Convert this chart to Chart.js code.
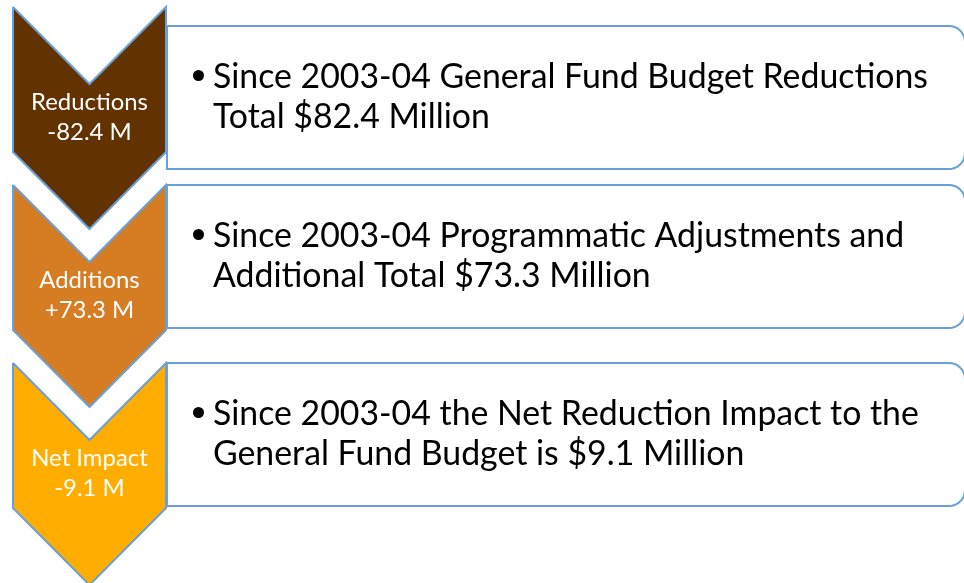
<!DOCTYPE html>
<html>
<head>
<meta charset="utf-8">
<script src="https://cdn.jsdelivr.net/npm/chart.js@4/dist/chart.umd.min.js"></script>
<style>
  html, body { margin: 0; padding: 0; background: #ffffff; }
  #wrap { width: 964px; height: 583px; position: relative; }
</style>
</head>
<body>
<div id="wrap"><canvas id="myChart"></canvas></div>
<script>
// data
var stepLabels = ['Reductions', 'Additions', 'Net Impact'];
var stepAmounts = [-82.4, 73.3, -9.1];
var detailLine1 = [
    'Since 2003-04 General Fund Budget Reductions',
    'Since 2003-04 Programmatic Adjustments and',
    'Since 2003-04 the Net Reduction Impact to the'
];
var detailLine2 = [
    'Total $82.4 Million',
    'Additional Total $73.3 Million',
    'General Fund Budget is $9.1 Million'
];

// styles / layout
var stepColors = ['#623300', '#D67D23', '#FFAD00'];
var outline = '#6A9FD8';
var W = 964, H = 583;
var chevL = 13, chevR = 166, chevTop0 = 7, rowStep = 178, chevSide = 145, notch = 77;
var boxL = 167, boxR = 965, boxTops = [26, 185, 363], boxH = 143, boxRadius = 16;
var fontFamily = 'Lato, "Open Sans", sans-serif';

function fmtAmount(v) {
    return (v > 0 ? '+' : '') + v.toFixed(1) + ' M';
}

function chevronPoints(i) {
    var t = chevTop0 + i * rowStep;
    var m = (chevL + chevR) / 2;
    return [
        { x: chevL, y: t }, { x: m, y: t + notch }, { x: chevR, y: t },
        { x: chevR, y: t + chevSide }, { x: m, y: t + chevSide + notch },
        { x: chevL, y: t + chevSide }, { x: chevL, y: t }
    ];
}

function boxPoints(i) {
    var t = boxTops[i], b = t + boxH, r = boxRadius;
    var pts = [{ x: boxL, y: t }, { x: boxR - r, y: t }];
    for (var k = 1; k <= 8; k++) {
        var a = -Math.PI / 2 + (k / 8) * Math.PI / 2;
        pts.push({ x: boxR - r + r * Math.cos(a), y: t + r + r * Math.sin(a) });
    }
    pts.push({ x: boxR, y: b - r });
    for (var k2 = 1; k2 <= 8; k2++) {
        var a2 = (k2 / 8) * Math.PI / 2;
        pts.push({ x: boxR - r + r * Math.cos(a2), y: b - r + r * Math.sin(a2) });
    }
    pts.push({ x: boxL, y: b }, { x: boxL, y: t });
    return pts;
}

var datasets = [];
stepLabels.forEach(function (lab, i) {
    datasets.push({
        label: lab,
        data: chevronPoints(i),
        backgroundColor: stepColors[i],
        borderColor: outline,
        borderWidth: 2,
        fill: 'shape',
        pointRadius: 0,
        tension: 0,
        borderJoinStyle: 'miter',
        clip: false,
        order: 1
    });
});
stepLabels.forEach(function (lab, i) {
    datasets.push({
        label: lab + ' box',
        data: boxPoints(i),
        backgroundColor: '#ffffff',
        borderColor: outline,
        borderWidth: 2,
        fill: 'shape',
        pointRadius: 0,
        tension: 0,
        clip: false,
        order: 2
    });
});

// 文字標籤
var textPlugin = {
    id: 'stepText',
    afterDatasetsDraw: function (chart) {
        var ctx = chart.ctx;
        var xs = chart.scales.x, ys = chart.scales.y;
        ctx.save();

        ctx.font = '100px ' + fontFamily;
        var bigSize = 100 * 715 / ctx.measureText(detailLine1[0]).width;
        var smallSize = 100 * 117 / ctx.measureText(stepLabels[0]).width;

        stepLabels.forEach(function (lab, i) {
            var mid = chevTop0 + i * rowStep + 111;
            var cx = xs.getPixelForValue((chevL + chevR) / 2);
            ctx.fillStyle = '#ffffff';
            ctx.textAlign = 'center';
            ctx.textBaseline = 'alphabetic';
            ctx.font = smallSize + 'px ' + fontFamily;
            ctx.fillText(lab, cx, ys.getPixelForValue(mid - 8));
            ctx.fillText(fmtAmount(stepAmounts[i]), cx, ys.getPixelForValue(mid + 22));

            var bmid = boxTops[i] + boxH / 2;
            var y1 = ys.getPixelForValue(bmid - 10);
            var y2 = ys.getPixelForValue(bmid + 30);
            ctx.fillStyle = '#000000';
            ctx.textAlign = 'left';
            ctx.font = bigSize + 'px ' + fontFamily;
            ctx.fillText(detailLine1[i], xs.getPixelForValue(213), y1);
            ctx.fillText(detailLine2[i], xs.getPixelForValue(213), y2);
            ctx.beginPath();
            ctx.arc(xs.getPixelForValue(198.5), y1 - 12, 5.5, 0, Math.PI * 2);
            ctx.fill();
        });
        ctx.restore();
    }
};

var myChart = new Chart(document.getElementById('myChart').getContext('2d'), {
    type: 'line',
    data: { datasets: datasets },
    options: {
        responsive: true,
        maintainAspectRatio: false,
        animation: false,
        layout: { padding: 0 },
        scales: {
            x: { type: 'linear', min: 0, max: W, display: false },
            y: { type: 'linear', min: 0, max: H, reverse: true, display: false }
        },
        plugins: {
            legend: { display: false },
            tooltip: { enabled: false }
        }
    },
    plugins: [textPlugin]
});
</script>
</body>
</html>
